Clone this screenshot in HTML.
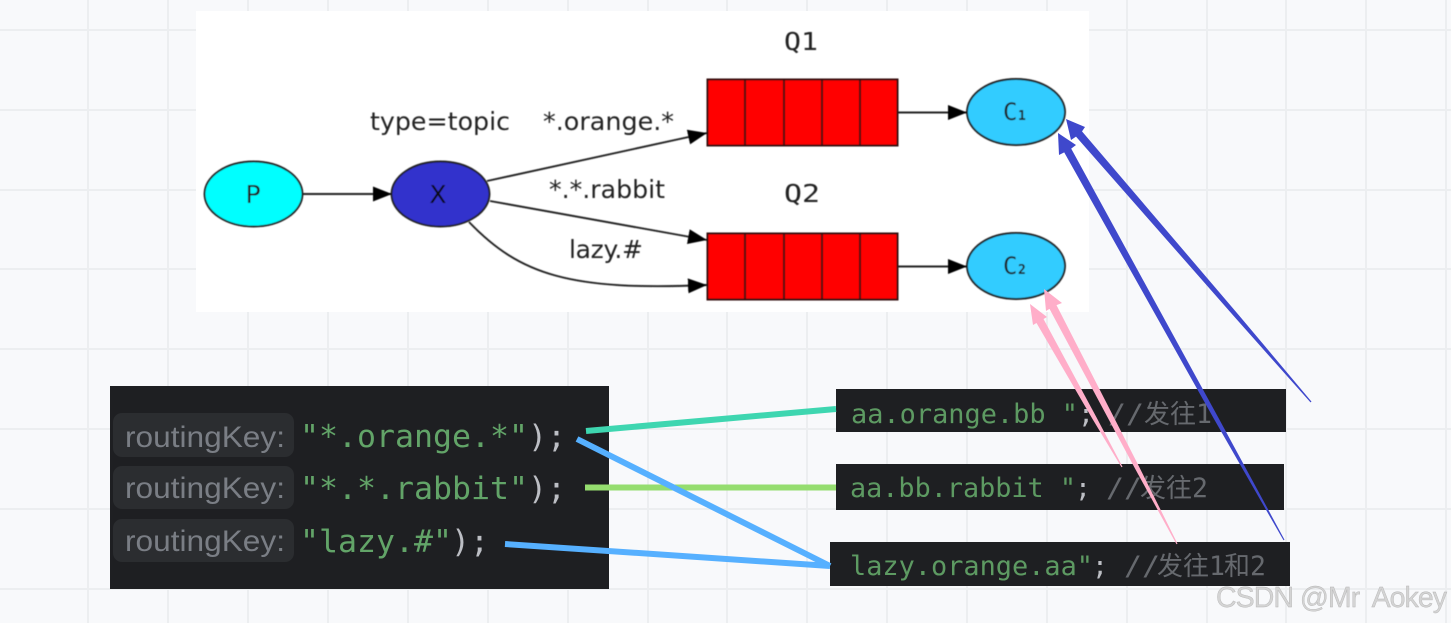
<!DOCTYPE html>
<html>
<head>
<meta charset="utf-8">
<style>
html,body{margin:0;padding:0;background:#f8f9fb;}
svg{display:block;}
.d{font-family:"DejaVu Sans",sans-serif;fill:#222;font-size:25px;}
.m{font-family:"DejaVu Sans Mono",monospace;fill:#222;font-size:25px;}
.k{font-family:"Liberation Sans",sans-serif;font-size:29.5px;fill:#7a7e85;}
.c{font-family:"DejaVu Sans Mono",monospace;font-size:31px;fill:#62a468;}
.p{font-family:"DejaVu Sans Mono",monospace;font-size:31px;fill:#bcbec4;}
.s{font-family:"DejaVu Sans Mono",monospace;font-size:26.5px;fill:#5d9a62;}
.w{font-family:"DejaVu Sans Mono",monospace;font-size:26.5px;fill:#bcbec4;}
.g{font-family:"DejaVu Sans Mono","Noto Sans CJK SC",monospace;font-size:26.5px;fill:#66696e;}
.cj{font-family:"Noto Sans CJK SC",sans-serif;font-size:26px;fill:#66696e;}
</style>
</head>
<body>
<svg width="1451" height="623" viewBox="0 0 1451 623" xmlns="http://www.w3.org/2000/svg">
<defs>
<marker id="a" markerUnits="userSpaceOnUse" markerWidth="20" markerHeight="16" refX="19" refY="7.5" orient="auto">
<polygon points="0,0 19,7.5 0,15" fill="#000"/>
</marker>
<filter id="b" x="-2%" y="-2%" width="104%" height="104%"><feGaussianBlur stdDeviation="0.55"/></filter>
<filter id="b2" x="-2%" y="-2%" width="104%" height="104%"><feGaussianBlur stdDeviation="0.35"/></filter>
</defs>

<!-- grid -->
<g stroke="#eceef0" stroke-width="2">
<path d="M88 0V623M168 0V623M248 0V623M328 0V623M408 0V623M488 0V623M568 0V623M648 0V623M727 0V623M807 0V623M887 0V623M967 0V623M1047 0V623M1127 0V623M1207 0V623M1286 0V623M1366 0V623M1446 0V623"/>
<path d="M0 30H1451M0 110H1451M0 190H1451M0 269H1451M0 349H1451M0 429H1451M0 509H1451M0 589H1451"/>
</g>

<!-- top diagram -->
<rect x="196" y="11" width="893" height="301" fill="#fff"/>
<g filter="url(#b)">
<ellipse cx="253.500" cy="194" rx="49" ry="32.500" fill="#00ffff" stroke="#222" stroke-width="1.900"/>
<ellipse cx="440.500" cy="194" rx="49" ry="32.500" fill="#3030cc" stroke="#222" stroke-width="1.900"/>
<ellipse cx="1016" cy="112" rx="49" ry="33" fill="#33ccff" stroke="#222" stroke-width="1.900"/>
<ellipse cx="1016" cy="266" rx="49" ry="33" fill="#33ccff" stroke="#222" stroke-width="1.900"/>
<g fill="#ff0000" stroke="#300808" stroke-width="2">
<rect x="707.500" y="79.500" width="190" height="66"/>
<rect x="707.500" y="233.500" width="190" height="66"/>
<path d="M745 79.500V145.500M784 79.500V145.500M822 79.500V145.500M860 79.500V145.500M745 233.500V299.500M784 233.500V299.500M822 233.500V299.500M860 233.500V299.500" fill="none"/>
</g>
<g stroke="#222" stroke-width="1.900" fill="none">
<path d="M303 194H392" marker-end="url(#a)"/>
<path d="M487 181L707 133" marker-end="url(#a)"/>
<path d="M490 201L707 240" marker-end="url(#a)"/>
<path d="M469 222C520 275 570 291 707 285" marker-end="url(#a)"/>
<path d="M898 112.500H967" marker-end="url(#a)"/>
<path d="M898 266.500H967" marker-end="url(#a)"/>
</g>
<text class="d" x="253" y="203" text-anchor="middle">P</text>
<text class="d" x="438" y="203" text-anchor="middle" style="fill:#111">X</text>
<text class="m" x="1003" y="120" style="font-size:24px">C</text>
<text class="m" x="1018" y="120" style="font-size:13px;font-weight:bold">1</text>
<text class="m" x="1003" y="274" style="font-size:24px">C</text>
<text class="m" x="1018" y="274" style="font-size:13px;font-weight:bold">2</text>
<text class="m" x="784" y="50" textLength="34" lengthAdjust="spacingAndGlyphs">Q1</text>
<text class="m" x="784" y="202" textLength="36" lengthAdjust="spacingAndGlyphs">Q2</text>
<text class="d" x="370" y="130" textLength="140" lengthAdjust="spacingAndGlyphs">type=topic</text>
<text class="d" x="543" y="130" textLength="131" lengthAdjust="spacingAndGlyphs">*.orange.*</text>
<text class="d" x="549" y="198" textLength="116" lengthAdjust="spacingAndGlyphs">*.*.rabbit</text>
<text class="d" x="569" y="258" textLength="74" lengthAdjust="spacing">lazy.#</text>
</g>

<!-- code panel -->
<rect x="110" y="386" width="499" height="203" fill="#1e1f22"/>
<g fill="#2b2d30">
<rect x="113" y="413" width="181" height="44" rx="9"/>
<rect x="113" y="466" width="181" height="43" rx="9"/>
<rect x="113" y="519" width="181" height="43" rx="9"/>
</g>
<g filter="url(#b2)">
<text class="k" x="125" y="447" textLength="160" lengthAdjust="spacingAndGlyphs">routingKey:</text>
<text class="k" x="125" y="498" textLength="160" lengthAdjust="spacingAndGlyphs">routingKey:</text>
<text class="k" x="125" y="551" textLength="160" lengthAdjust="spacingAndGlyphs">routingKey:</text>
<text class="c" x="300" y="447" textLength="228" lengthAdjust="spacingAndGlyphs">"*.orange.*"</text>
<text class="p" x="528" y="447" textLength="38" lengthAdjust="spacingAndGlyphs">);</text>
<text class="c" x="300" y="499" textLength="228" lengthAdjust="spacingAndGlyphs">"*.*.rabbit"</text>
<text class="p" x="528" y="499" textLength="38" lengthAdjust="spacingAndGlyphs">);</text>
<text class="c" x="300" y="552" textLength="152" lengthAdjust="spacingAndGlyphs">"lazy.#"</text>
<text class="p" x="451" y="552" textLength="38" lengthAdjust="spacingAndGlyphs">);</text>
</g>

<!-- right boxes -->
<rect x="836" y="389" width="450" height="43" fill="#1e1f22"/>
<rect x="836" y="464" width="448" height="46" fill="#1e1f22"/>
<rect x="830" y="542" width="460" height="44" fill="#1e1f22"/>
<g filter="url(#b2)">
<text class="s" x="851" y="423" textLength="227" lengthAdjust="spacingAndGlyphs">aa.orange.bb "</text>
<text class="w" x="1078" y="423">;</text>
<text class="g" x="1108" y="423" textLength="36" lengthAdjust="spacingAndGlyphs">//</text>
<text class="cj" x="1144" y="423">发往</text>
<text class="g" x="1196" y="423">1</text>

<text class="s" x="850" y="497" textLength="226" lengthAdjust="spacingAndGlyphs">aa.bb.rabbit "</text>
<text class="w" x="1075" y="497">;</text>
<text class="g" x="1106" y="497" textLength="36" lengthAdjust="spacingAndGlyphs">//</text>
<text class="cj" x="1140" y="497">发往</text>
<text class="g" x="1192" y="497">2</text>

<text class="s" x="850" y="575" textLength="243" lengthAdjust="spacingAndGlyphs">lazy.orange.aa"</text>
<text class="w" x="1092" y="575">;</text>
<text class="g" x="1124" y="575" textLength="36" lengthAdjust="spacingAndGlyphs">//</text>
<text class="cj" x="1157" y="575">发往</text>
<text class="g" x="1209" y="575">1</text>
<text class="cj" x="1224" y="575">和</text>
<text class="g" x="1250" y="575">2</text>
</g>

<!-- coloured connectors -->
<g fill="none" stroke-width="6">
<path d="M586 431L836 409" stroke="#3ed6b0"/>
<path d="M585 487.500H836" stroke="#95dd6f"/>
<path d="M577 439L830 566" stroke="#56b0ff"/>
<path d="M505 544L830 566" stroke="#56b0ff"/>
</g>

<!-- tapered arrows -->
<polygon fill="#3f48cc" points="1066,119 1085,127 1082,131.400 1239.200,315.600 1311.500,401.600 1310.500,402.400 1235.800,318.400 1076,136.600 1071,140"/>
<polygon fill="#3f48cc" points="1058,133 1076,145 1071.200,148.600 1218,417 1284.500,539.700 1283.500,540.300 1214,419 1064.200,152.400 1059,155"/>
<polygon fill="#ffaec9" points="1044,289 1062,303 1056.500,305.100 1139,466.500 1177.500,543.700 1176.500,544.300 1135,468.500 1049.500,308.900 1046,311"/>
<polygon fill="#ffaec9" points="1030,304 1047,317 1043.500,319 1096.300,417 1122.500,466.700 1121.500,467.300 1092.500,419 1036.500,323 1033,325"/>

<!-- watermark -->
<text x="1216" y="607" font-family="'Liberation Sans',sans-serif" font-size="28.500" fill="#d4d4d4" stroke="#b4b4b4" stroke-width="0.4" textLength="231" lengthAdjust="spacing" style="white-space:pre">CSDN @Mr  Aokey</text>
</svg>
</body>
</html>
